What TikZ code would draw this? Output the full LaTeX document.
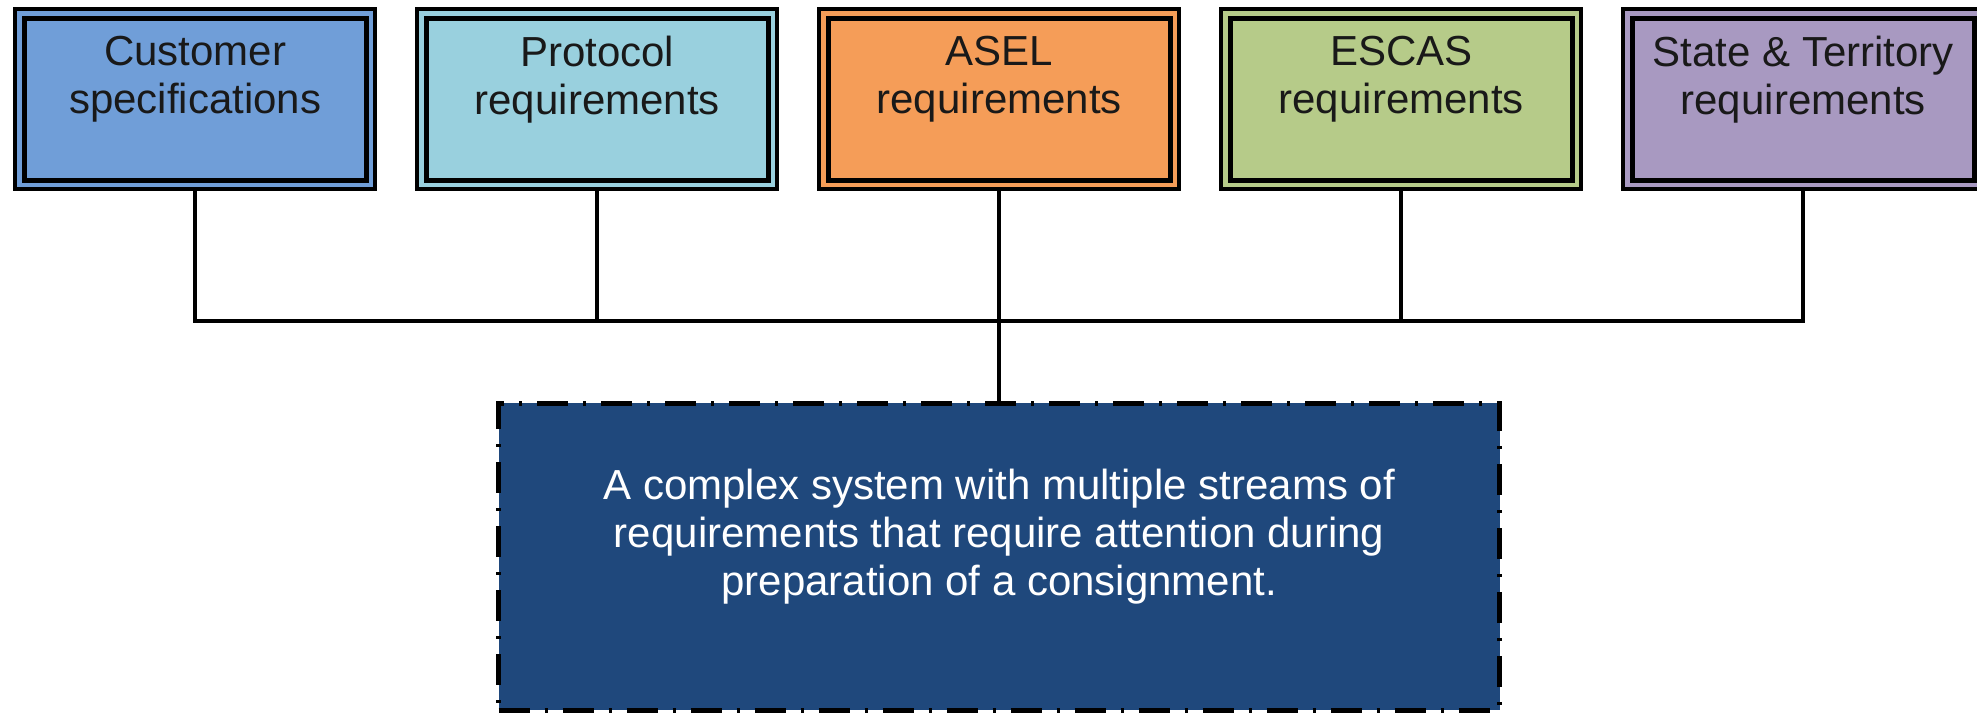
\documentclass[tikz,border=0pt]{standalone}
\usepackage{fontspec}
\setmainfont{Liberation Sans}
\usepackage{tikz}
\usetikzlibrary{positioning, calc}

\definecolor{custblue}{RGB}{112,158,216}
\definecolor{protocyan}{RGB}{153,208,222}
\definecolor{aselorange}{RGB}{245,157,88}
\definecolor{escasgreen}{RGB}{182,203,137}
\definecolor{statepurple}{RGB}{168,153,193}
\definecolor{summarynavy}{RGB}{31,72,124}

\begin{document}
\begin{tikzpicture}[
        node distance=21pt,
        reqbox/.style={draw, line width=2pt, minimum width=180pt, minimum height=90pt, inner sep=0pt, outer sep=0pt, align=center, font=\fontsize{21pt}{24pt}\selectfont, text=black!90},
        sumbox/.style={draw, line width=2.5pt, dash pattern=on 15.5pt off 7.5pt on 1.5pt off 7.5pt, fill=summarynavy, minimum width=500.5pt, minimum height=153.5pt, inner sep=0pt, outer sep=0pt, align=center, font=\fontsize{21pt}{24pt}\selectfont, text=white},
        link/.style={line width=2.2pt}
        ]
        \useasboundingbox (0,0) rectangle (988.5pt,-357pt);

        % Nodes
        \node[reqbox, fill=custblue] (customer) at (97.6pt,-49.5pt) {Customer\\specifications\\~};
        \node[reqbox, fill=protocyan, right=of customer] (protocol) {Protocol\\requirements\\~};
        \node[reqbox, fill=aselorange, right=of protocol] (asel) {ASEL\\requirements\\~};
        \node[reqbox, fill=escasgreen, right=of asel] (escas) {ESCAS\\requirements\\~};
        \node[reqbox, fill=statepurple, right=of escas] (state) {State \& Territory\\requirements\\~};
        \node[sumbox, below=107pt of asel] (summary) {A complex system with multiple streams of\\requirements that require attention during\\preparation of a consignment.\\~};

        % Inner frames
        \foreach \n in {customer,protocol,asel,escas,state}
            \draw[line width=2.5pt] ([shift={(4.5pt,-4.5pt)}]\n.north west) rectangle ([shift={(-4.5pt,4.5pt)}]\n.south east);

        % Connectors
        \coordinate[below=66pt of asel.south] (junction);
        \foreach \n in {customer,protocol,escas,state}
            \draw[link] (\n.south) |- (junction);
        \draw[link] (asel.south) -- (summary.north);

\end{tikzpicture}
\end{document}
